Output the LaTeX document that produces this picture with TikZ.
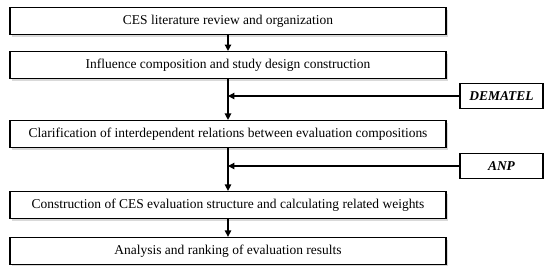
\documentclass[tikz,border=0pt]{standalone}
\usepackage{fontspec}
\setmainfont{Liberation Serif}
\usepackage{tikz}
\usetikzlibrary{
  arrows.meta,
  positioning, calc,
  shadows
}

\begin{document}
\begin{tikzpicture}[
  x=0.03cm, y=-0.03cm,
  >={Triangle[length=5.5pt, width=5.5pt]},
  font=\fontsize{11.5}{13}\selectfont,
  stage/.style={draw, line width=1.1pt, fill=white, minimum width=13.08cm, minimum height=0.8cm,
                anchor=north, inner sep=0pt,
                drop shadow={shadow xshift=2pt, shadow yshift=-2pt, opacity=0.3}},
  tool/.style={draw, line width=1.1pt, fill=white, minimum width=2.49cm, minimum height=0.77cm,
               font=\fontsize{11.5}{13}\selectfont\bfseries\itshape},
  arr/.style={line width=1.1pt, ->}
]
  \useasboundingbox (0,0) rectangle (550,267);
  \node[stage] (s1) at (228,7) {CES literature review and organization};
  \node[stage, below=0.48cm of s1.south] (s2)
    {Influence composition and study design construction};
  \node[stage, below=1.23cm of s2.south] (s3)
    {Clarification of interdependent relations between evaluation compositions};
  \node[stage, below=1.29cm of s3.south] (s4)
    {Construction of CES evaluation structure and calculating related weights};
  \node[stage, below=0.54cm of s4.south] (s5)
    {Analysis and ranking of evaluation results};
  \node[tool] (dematel) at (501.5,96) {DEMATEL};
  \node[tool] (anp) at (501.5,166) {ANP};
  \draw[arr] (s1.south) -- (s2.north);
  \draw[arr] (s2.south) -- (s3.north);
  \draw[arr] (s3.south) -- (s4.north);
  \draw[arr] (s4.south) -- (s5.north);
  \draw[arr] (dematel.west) -- (dematel.west -| s2.south);
  \draw[arr] (anp.west) -- (anp.west -| s3.south);
\end{tikzpicture}
\end{document}
